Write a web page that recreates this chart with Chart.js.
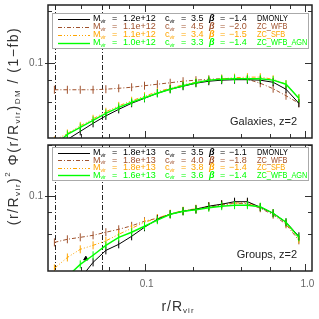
<!DOCTYPE html>
<html>
<head>
<meta charset="utf-8">
<script src="https://cdn.jsdelivr.net/npm/chart.js@4/dist/chart.umd.min.js"></script>
<style>
body { margin: 0; background: #fff; }
#wrap { position: relative; width: 319px; height: 319px; }
canvas { position: absolute; left: 0; top: 0; }
</style>
</head>
<body>
<div id="wrap">
<canvas id="gal" width="319" height="319"></canvas>
<canvas id="grp" width="319" height="319"></canvas>
</div>
<script>
// radial bins r/Rvir
var rBins = [0.0274, 0.0330, 0.0397, 0.0477, 0.0573, 0.0689, 0.0829, 0.0997, 0.1199, 0.1441,
             0.1733, 0.2084, 0.2506, 0.3014, 0.3624, 0.4358, 0.5241, 0.6302, 0.7578, 0.9113];

// galaxies, z=2
var galDM  = [0.0313,0.0363,0.0404,0.0450,0.0497,0.0542,0.0588,0.0628,0.0672,0.0709,0.0738,0.0768,0.0789,0.0800,0.0805,0.0805,0.0800,0.0778,0.0709,0.0588];
var galWFB = [0.0704,0.0704,0.0704,0.0704,0.0709,0.0718,0.0728,0.0743,0.0758,0.0773,0.0789,0.0800,0.0810,0.0816,0.0816,0.0810,0.0768,0.0714,0.0650,0.0588];
var galSFB = [0.0358,0.0393,0.0435,0.0478,0.0525,0.0568,0.0608,0.0646,0.0686,0.0718,0.0753,0.0778,0.0800,0.0816,0.0827,0.0833,0.0833,0.0810,0.0758,0.0628];
var galAGN = [0.0335,0.0388,0.0426,0.0468,0.0514,0.0557,0.0596,0.0633,0.0672,0.0709,0.0743,0.0773,0.0800,0.0810,0.0816,0.0816,0.0816,0.0800,0.0758,0.0628];

// groups, z=2
var grpDM  = [0.0240,0.0276,0.0325,0.0405,0.0477,0.0518,0.0578,0.0654,0.0730,0.0781,0.0814,0.0837,0.0872,0.0896,0.0927,0.0927,0.0860,0.0792,0.0700,0.0578];
var grpWFB = [0.0532,0.0555,0.0570,0.0586,0.0611,0.0636,0.0667,0.0710,0.0740,0.0781,0.0814,0.0831,0.0860,0.0884,0.0909,0.0902,0.0848,0.0776,0.0681,0.0547];
var grpSFB = [0.0373,0.0433,0.0484,0.0511,0.0543,0.0594,0.0645,0.0700,0.0740,0.0787,0.0820,0.0843,0.0872,0.0896,0.0909,0.0915,0.0860,0.0792,0.0691,0.0555];
var grpAGN = [0.0276,0.0334,0.0394,0.0446,0.0511,0.0570,0.0611,0.0663,0.0720,0.0781,0.0814,0.0831,0.0854,0.0872,0.0884,0.0884,0.0866,0.0792,0.0700,0.0570];
var grpMark = [0.043, 0.0426];

// legend text: Mvir, cvir, beta, run
var galLegend = [['1.2e+12','3.5','\u22121.4','DMONLY'], ['1.1e+12','4.5','\u22122.0','ZC_WFB'],
                 ['1.1e+12','3.4','\u22121.5','ZC_SFB'], ['1.0e+12','3.3','\u22121.4','ZC_WFB_AGN']];
var grpLegend = [['1.8e+13','3.5','\u22121.1','DMONLY'], ['1.8e+13','4.0','\u22121.8','ZC_WFB'],
                 ['1.8e+13','3.8','\u22121.4','ZC_SFB'], ['1.6e+13','3.6','\u22121.4','ZC_WFB_AGN']];

var cutR = [0.0275, 0.054];
var xRange = [0.025, 1.1];
var galYRange = [0.037, 0.218];
var grpYRange = [0.036, 0.201];
var yLabelVals = [0.1];
var xLabelVals = [0.1, 1.0];

var FAM = '"Liberation Sans", Arial, sans-serif';
var runStyle = [
	{ color: '#000000', dash: [], width: 1 },
	{ color: '#a0522d', dash: [4, 2, 1, 2], width: 1 },
	{ color: '#ffa500', dash: [4, 2, 1, 2, 1, 2, 1, 2], width: 1 },
	{ color: '#00ff00', dash: [], width: 1.4 }
];

function pts(ys) {
	return ys.map(function(v, i) { return { x: rBins[i], y: v }; });
}

function lineSet(ys, k) {
	var s = runStyle[k];
	return {
		data: pts(ys),
		borderColor: s.color,
		borderDash: s.dash,
		borderWidth: s.width,
		pointStyle: 'line',
		rotation: 90,
		pointRadius: 4,
		pointBorderWidth: 1,
		pointBorderColor: s.color,
		pointBackgroundColor: s.color,
		fill: false,
		tension: 0
	};
}

function isPow10(v) {
	var l = Math.log10(v);
	return Math.abs(l - Math.round(l)) < 1e-6;
}
function isWhole(v) {
	var e = Math.pow(10, Math.floor(Math.log10(v) + 1e-9));
	var s = v / e;
	return Math.abs(s - Math.round(s)) < 1e-6;
}

// pieces: [text, kind]  kind 0 normal, 1 subscript, 2 superscript
function rich(ctx, pieces, x, y, size, align, squeeze) {
	squeeze = squeeze || 1;
	var w = 0;
	pieces.forEach(function(p) {
		ctx.font = (p[1] ? Math.round(size * 0.6) : size) + 'px ' + FAM;
		w += ctx.measureText(p[0]).width * squeeze;
	});
	var cx = align === 'center' ? x - w / 2 : x;
	pieces.forEach(function(p) {
		var sz = p[1] ? Math.round(size * 0.6) : size;
		ctx.font = sz + 'px ' + FAM;
		var dy = p[1] === 1 ? size * 0.3 : (p[1] === 2 ? -size * 0.45 : 0);
		var pw = ctx.measureText(p[0]).width * squeeze;
		ctx.fillText(p[0], cx, y + dy, pw);
		cx += pw;
	});
}

var panelDeco = {
	id: 'panelDeco',
	beforeDatasetsDraw: function(chart) {
		var ctx = chart.ctx, a = chart.chartArea, xs = chart.scales.x;
		ctx.save();
		ctx.strokeStyle = '#222';
		ctx.lineWidth = 1;
		ctx.setLineDash([5, 2, 1, 2]);
		cutR.forEach(function(r) {
			var px = Math.round(xs.getPixelForValue(r)) + 0.5;
			ctx.beginPath();
			ctx.moveTo(px, a.top);
			ctx.lineTo(px, a.bottom);
			ctx.stroke();
		});
		ctx.restore();
	},
	afterDraw: function(chart, args, opts) {
		var ctx = chart.ctx, a = chart.chartArea;
		var xs = chart.scales.x, ys = chart.scales.y;
		ctx.save();

		// ticks
		ctx.strokeStyle = '#333';
		ctx.lineWidth = 1;
		xs.ticks.forEach(function(t) {
			var v = t.value;
			if (v < xs.min || v > xs.max || !isWhole(v)) return;
			var px = Math.round(xs.getPixelForValue(v)) + 0.5;
			var len = isPow10(v) ? 7 : 4;
			ctx.beginPath();
			ctx.moveTo(px, a.bottom); ctx.lineTo(px, a.bottom - len);
			ctx.moveTo(px, a.top); ctx.lineTo(px, a.top + len);
			ctx.stroke();
		});
		ys.ticks.forEach(function(t) {
			var v = t.value;
			if (v < ys.min || v > ys.max || !isWhole(v)) return;
			var py = Math.round(ys.getPixelForValue(v)) + 0.5;
			var len = isPow10(v) ? 7 : 4;
			ctx.beginPath();
			ctx.moveTo(a.left - (isPow10(v) ? 3 : 0), py); ctx.lineTo(a.left + len, py);
			ctx.moveTo(a.right, py); ctx.lineTo(a.right - len, py);
			ctx.stroke();
		});

		// frame
		ctx.strokeStyle = '#222';
		ctx.lineWidth = 1.5;
		ctx.strokeRect(a.left, a.top, a.right - a.left, a.bottom - a.top);

		// y labels
		ctx.fillStyle = '#666';
		ctx.font = '10px ' + FAM;
		ctx.textAlign = 'right';
		ctx.textBaseline = 'middle';
		yLabelVals.forEach(function(v) {
			ctx.fillText(String(v), a.left - 5, ys.getPixelForValue(v));
		});
		if (opts.xLabels) {
			ctx.textAlign = 'center';
			xLabelVals.forEach(function(v) {
				ctx.fillText(v.toFixed(1), xs.getPixelForValue(v) + 2, a.bottom + 13);
			});
		}

		// legend box
		var bx = a.left + 4, by = a.top + opts.boxTop, bw = a.right - a.left - 8, bh = opts.boxH;
		ctx.fillStyle = '#fff';
		ctx.fillRect(bx, by, bw, bh);
		ctx.strokeStyle = '#aaa';
		ctx.lineWidth = 1;
		ctx.strokeRect(bx + 0.5, by + 0.5, bw, bh);
		ctx.textAlign = 'left';
		opts.legend.forEach(function(row, i) {
			var st = runStyle[i];
			var ry = by + opts.row0 + i * opts.rowStep;
			ctx.strokeStyle = st.color;
			ctx.lineWidth = st.width;
			ctx.setLineDash(st.dash);
			ctx.beginPath();
			ctx.moveTo(bx + 6, Math.round(ry) + 0.5);
			ctx.lineTo(bx + 38, Math.round(ry) + 0.5);
			ctx.stroke();
			ctx.setLineDash([]);
			ctx.fillStyle = st.color;
			rich(ctx, [['M', 0], ['vir', 1]], bx + 41, ry, 9);
			rich(ctx, [['=', 0]], bx + 60, ry, 9);
			rich(ctx, [[row[0], 0]], bx + 71, ry, 9);
			rich(ctx, [['c', 0], ['vir', 1]], bx + 113, ry, 9);
			rich(ctx, [['=', 0]], bx + 129, ry, 9);
			rich(ctx, [[row[1], 0]], bx + 139, ry, 9);
			ctx.font = 'italic bold 9px ' + FAM;
			ctx.fillText('\u03b2', bx + 157, ry);
			rich(ctx, [['=', 0]], bx + 168, ry, 9);
			rich(ctx, [[row[2], 0]], bx + 177, ry, 9);
			rich(ctx, [[row[3], 0]], bx + 205, ry, 9, 'left', 0.82);
		});

		// panel note
		ctx.fillStyle = '#222';
		ctx.font = '11px ' + FAM;
		ctx.textAlign = 'right';
		ctx.fillText(opts.note, a.right - 15, a.bottom - 16);

		ctx.restore();
	}
};

function panel(id, sets, yr, deco, pad) {
	return new Chart(document.getElementById(id).getContext('2d'), {
		type: 'line',
		data: { datasets: sets },
		options: {
			responsive: false,
			animation: false,
			devicePixelRatio: 1,
			layout: { padding: pad },
			plugins: { legend: { display: false }, tooltip: { enabled: false }, panelDeco: deco },
			scales: {
				x: { type: 'logarithmic', min: xRange[0], max: xRange[1], display: false },
				y: { type: 'logarithmic', min: yr[0], max: yr[1], display: false }
			}
		},
		plugins: [panelDeco]
	});
}

panel('gal',
	[lineSet(galAGN, 3), lineSet(galDM, 0), lineSet(galSFB, 2), lineSet(galWFB, 1)],
	galYRange,
	{ legend: galLegend, note: 'Galaxies, z=2', boxTop: 8, boxH: 35, row0: 5.5, rowStep: 8, xLabels: false },
	{ left: 48, right: 7, top: 5, bottom: 181 });

var grpSets = [lineSet(grpAGN, 3), lineSet(grpDM, 0), lineSet(grpSFB, 2), lineSet(grpWFB, 1)];
grpSets.push({
	data: [{ x: grpMark[0], y: grpMark[1] }],
	showLine: false,
	pointStyle: 'triangle',
	pointRadius: 2.5,
	pointBackgroundColor: '#000',
	pointBorderColor: '#000'
});
panel('grp', grpSets, grpYRange,
	{ legend: grpLegend, note: 'Groups, z=2', boxTop: 2, boxH: 33, row0: 5.5, rowStep: 7.6, xLabels: true },
	{ left: 48, right: 7, top: 145, bottom: 48 });

// axis titles on the lower canvas
(function() {
	var ctx = document.getElementById('grp').getContext('2d');
	ctx.save();
	ctx.fillStyle = '#333';
	ctx.textBaseline = 'middle';
	ctx.letterSpacing = '1px';
	rich(ctx, [['r/R', 0], ['vir', 1]], 178, 307, 14, 'center');
	ctx.translate(14, 126);
	ctx.rotate(-Math.PI / 2);
	ctx.letterSpacing = '1.5px';
	rich(ctx, [['(r/R', 0], ['vir', 1], [')', 0], ['2', 2], [' \u03a6(r/R', 0], ['vir', 1], [')', 0], ['DM', 1],
		[' / (1\u2212fb)', 0]], 0, 0, 14, 'center');
	ctx.restore();
})();
</script>
</body>
</html>
